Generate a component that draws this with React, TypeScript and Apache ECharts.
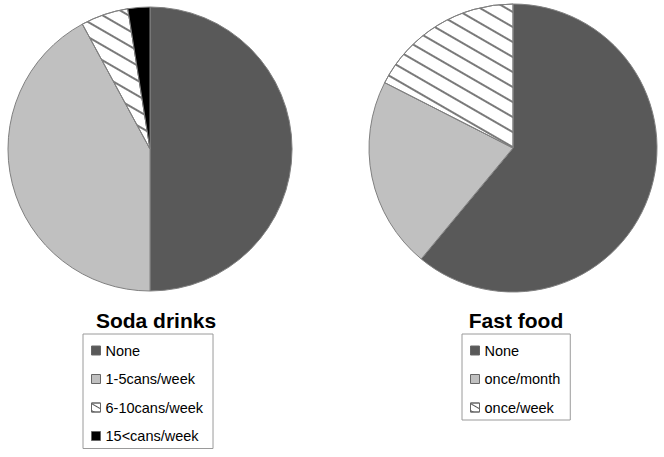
import React, { useEffect, useRef } from "react";
import * as echarts from "echarts";

const sodaCategories = ["None", "1-5cans/week", "6-10cans/week", "15<cans/week"];
const sodaValues = [50, 42.1, 5.4, 2.5];
const fastCategories = ["None", "once/month", "once/week"];
const fastValues = [61, 21.5, 17.5];
const titles = ["Soda drinks", "Fast food"];

const DARK = "#595959";
const LIGHT = "#c0c0c0";
const BLACK = "#000000";
const BORDER = "#808080";

const hatch = {
  symbol: "rect",
  symbolSize: 1,
  color: "#7a7a7a",
  dashArrayX: [1, 0],
  dashArrayY: [1.3, 10.5],
  rotation: Math.PI / 6,
};

const iconHatch = {
  symbol: "rect",
  symbolSize: 1,
  color: "#555",
  dashArrayX: [1, 0],
  dashArrayY: [1, 5],
  rotation: Math.PI / 6,
};

function isHatch(name: string) {
  return name.startsWith("6-10") || name === "once/week";
}

function styleFor(name: string) {
  if (name === "None") return { color: DARK };
  if (name.startsWith("1-5") || name === "once/month") return { color: LIGHT };
  if (isHatch(name)) return { color: "#ffffff", decal: hatch };
  return { color: BLACK };
}

export default function App() {
  const ref = useRef<HTMLDivElement>(null);
  useEffect(() => {
    if (!ref.current) return;
    const chart = echarts.init(ref.current, undefined, { renderer: "svg" });
    const mk = (cats: string[], vals: number[]) =>
      cats.map((c, i) => ({ name: c, value: vals[i], itemStyle: styleFor(c) }));
    const legendData = (cats: string[]) =>
      cats.map((c) => (isHatch(c) ? { name: c, itemStyle: { decal: iconHatch } } : { name: c }));
    const legendCommon = {
      orient: "vertical" as const,
      icon: "rect",
      itemWidth: 9,
      itemHeight: 9,
      itemGap: 13.5,
      padding: [9, 10, 5, 8],
      borderColor: "#9a9a9a",
      borderWidth: 1,
      backgroundColor: "#fff",
      selectedMode: false,
      height: 110,
      textStyle: { fontSize: 14.5, fontFamily: "Liberation Sans", color: "#000" },
      itemStyle: { borderColor: "#666", borderWidth: 1 },
    };
    const titleStyle = { fontSize: 21, fontWeight: "bold", fontFamily: "Liberation Sans", color: "#000" };
    chart.setOption({
      animation: false,
      backgroundColor: "#fff",
      title: [
        { text: titles[0], left: 151, top: 305, textAlign: "center", textStyle: titleStyle },
        { text: titles[1], left: 511, top: 305, textAlign: "center", textStyle: titleStyle },
      ],
      legend: [
        { ...legendCommon, left: 83, top: 334, data: legendData(sodaCategories) },
        { ...legendCommon, left: 462, top: 334, data: legendData(fastCategories) },
      ],
      series: [
        {
          type: "pie",
          center: [150, 149],
          radius: 142,
          startAngle: 90,
          clockwise: true,
          label: { show: false },
          labelLine: { show: false },
          emphasis: { disabled: true },
          itemStyle: { borderColor: BORDER, borderWidth: 1 },
          data: mk(sodaCategories, sodaValues),
        },
        {
          type: "pie",
          center: [513, 148],
          radius: 144,
          startAngle: 90,
          clockwise: true,
          label: { show: false },
          labelLine: { show: false },
          emphasis: { disabled: true },
          itemStyle: { borderColor: BORDER, borderWidth: 1 },
          data: mk(fastCategories, fastValues),
        },
      ],
    });
    return () => chart.dispose();
  }, []);
  return <div ref={ref} style={{ position: "absolute", left: 0, top: 0, width: 664, height: 457 }} />;
}
